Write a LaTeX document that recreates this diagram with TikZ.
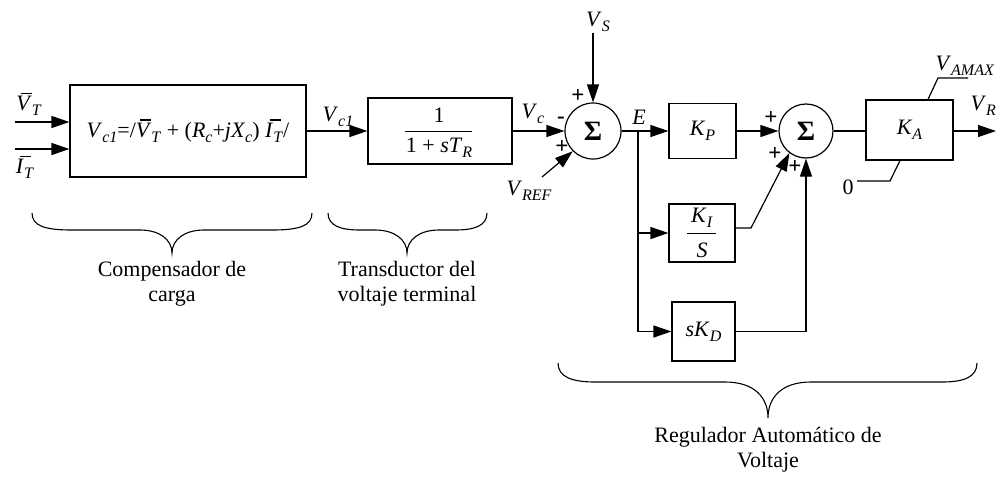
\documentclass[tikz,border=0pt]{standalone}
\usepackage{fontspec}
\setmainfont{Liberation Serif}
\usetikzlibrary{arrows.meta,calc}
\newcommand\mI[1]{\textit{#1}}
\newcommand\sbs[1]{\raisebox{-0.22em}{\fontsize{16}{16}\selectfont\textit{#1}}}
\newcommand\ovl[1]{\leavevmode\hbox{\rlap{\hspace{0.2em}\rule[0.76em]{0.5em}{0.06em}}\textit{#1}}}
\begin{document}
\begin{tikzpicture}[x=1pt,y=-1pt,line width=1.2pt,
  blk/.style={draw,rectangle,inner sep=0pt,line width=1.2pt,font=\fontsize{22}{26}\selectfont},
  sumc/.style={draw,circle,minimum size=56pt,inner sep=0pt,line width=1.2pt,font=\fontsize{28}{28}\selectfont\bfseries},
  lbl/.style={inner sep=0pt,font=\fontsize{22}{26}\selectfont},
  sgn/.style={inner sep=0pt,font=\fontsize{23}{23}\selectfont\bfseries},
  arr/.style={-{Triangle[length=18pt,width=12pt]}},
  brc/.style={line width=1.1pt},
  txt/.style={align=center,inner sep=0pt,font=\fontsize{22}{25}\selectfont}]
\useasboundingbox (0,0) rectangle (996,479);
% blocks
\node[blk,minimum width=236pt,minimum height=92pt] (b1) at (188,131)
  {\mI{V}\sbs{c1}=/\ovl{V}\sbs{T} + (\mI{R}\sbs{c}+\mI{jX}\sbs{c}) \ovl{I}\sbs{T}/};
\node[blk,minimum width=144pt,minimum height=66pt] (b2) at (440,131) {};
\node[lbl] (num) at (439,115) {1};
\node[lbl] (den) at (439,148) {1 + \mI{sT}\sbs{R}};
\draw[line width=1pt] (405,131) -- (472,131);
\node[sumc] (s1) at (593,131) {Σ};
\node[blk,minimum width=67pt,minimum height=55pt] (kp) at (702.5,131) {\mI{K}\sbs{P}};
\node[blk,minimum width=66pt,minimum height=58pt] (ki) at (702,233) {};
\node[lbl] (kin) at (702,218) {\mI{K}\sbs{I}};
\node[lbl] (kis) at (702,250) {\mI{S}};
\draw[line width=1pt] (687,233) -- (716,233);
\node[blk,minimum width=63pt,minimum height=59pt] (kd) at (703.5,331.5) {\mI{sK}\sbs{D}};
\node[sumc,minimum size=54pt] (s2) at (806,131) {Σ};
\node[blk,minimum width=87pt,minimum height=60pt] (ka) at (909.5,130) {\mI{K}\sbs{A}};
% inputs
\coordinate (vtin) at (15,122);
\coordinate (itin) at (15,149);
\draw[arr] (vtin) -- (vtin -| b1.west);
\draw[arr] (itin) -- (itin -| b1.west);
\node[lbl] (lvt) at (29,104) {\ovl{V}\sbs{T}};
\node[lbl] (lit) at (25,167) {\ovl{I}\sbs{T}};
\draw[arr] (b1.east) -- (b2.west);
\node[lbl] (lvc1) at (338,117) {\mI{V}\sbs{c1}};
\draw[arr] (b2.east) -- (s1.west);
\node[lbl] (lvc) at (533,114) {\mI{V}\sbs{c}};
\node[sgn] (m1) at (561,120) {-};
\node[sgn] (p1) at (578,96) {+};
\node[sgn] (p2) at (562,147) {+};
\node[lbl] (vs) at (598,22) {\mI{V}\sbs{S}};
\coordinate (vstop) at (593,33);
\draw[arr] (vstop) -- (s1.north);
\node[lbl] (vref) at (529,191) {\mI{V}\sbs{REF}};
\coordinate (vrefst) at (542,177);
\draw[arr] (vrefst) -- (s1.225);
% PID
\coordinate (br) at (638,131);
\node[lbl] (le) at (639,117) {\mI{E}};
\draw[arr] (s1.east) -- (kp.west);
\draw[arr] (br) |- (ki.west);
\draw[arr] (br) |- (kd.west);
\draw[arr] (kp.east) -- (s2.west);
\coordinate (kiout) at (751,228);
\draw[arr] ($(ki.east)+(0,-5)$) -- (kiout) -- (s2.233);
\draw[arr] (kd.east) -| (s2.south);
\node[sgn] (p3) at (771,118) {+};
\node[sgn] (p4) at (775,154) {+};
\node[sgn] (p5) at (795,167) {+};
\draw (s2.east) -- (s2.east -| ka.west);
\coordinate (out) at (996,131);
\draw[arr] (ka.east |- out) -- (out);
\node[lbl,anchor=west] (vr) at (970,106) {\mI{V}\sbs{R}};
% limiter
\coordinate (am1) at (938,78);
\coordinate (am2) at (968,78);
\draw ([xshift=18.5pt]ka.north) -- (am1) -- (am2);
\node[lbl] (vamax) at (965,66) {\mI{V}\sbs{AMAX}};
\coordinate (z1) at (890,181);
\coordinate (z2) at (857,181);
\draw ([xshift=-9.5pt]ka.south) -- (z1) -- (z2);
\node[lbl] (zero) at (848,187) {0};
% braces
\draw[brc] (32,213) .. controls (32,226) and (45,230) .. (72,230) -- (140,230)
  .. controls (160,230) and (172,240) .. (172,253)
  .. controls (172,240) and (184,230) .. (204,230) -- (272,230)
  .. controls (299,230) and (312,226) .. (312,213);
\draw[brc] (328,213) .. controls (328,226) and (341,230) .. (360,230) -- (375,230)
  .. controls (395,230) and (407,240) .. (407,253)
  .. controls (407,240) and (419,230) .. (439,230) -- (455,230)
  .. controls (474,230) and (487,226) .. (487,213);
\draw[brc] (558,363) .. controls (558,377) and (572,382) .. (595,382) -- (725,382)
  .. controls (755,382) and (768,398) .. (768,418)
  .. controls (768,398) and (781,382) .. (811,382) -- (942,382)
  .. controls (964,382) and (977,377) .. (977,363);
\node[txt] (t1) at (172,284) {Compensador de\\carga};
\node[txt] (t2) at (407,284) {Transductor del\\voltaje terminal};
\node[txt] (t3) at (768,450) {Regulador Automático de\\Voltaje};
\end{tikzpicture}
\end{document}
